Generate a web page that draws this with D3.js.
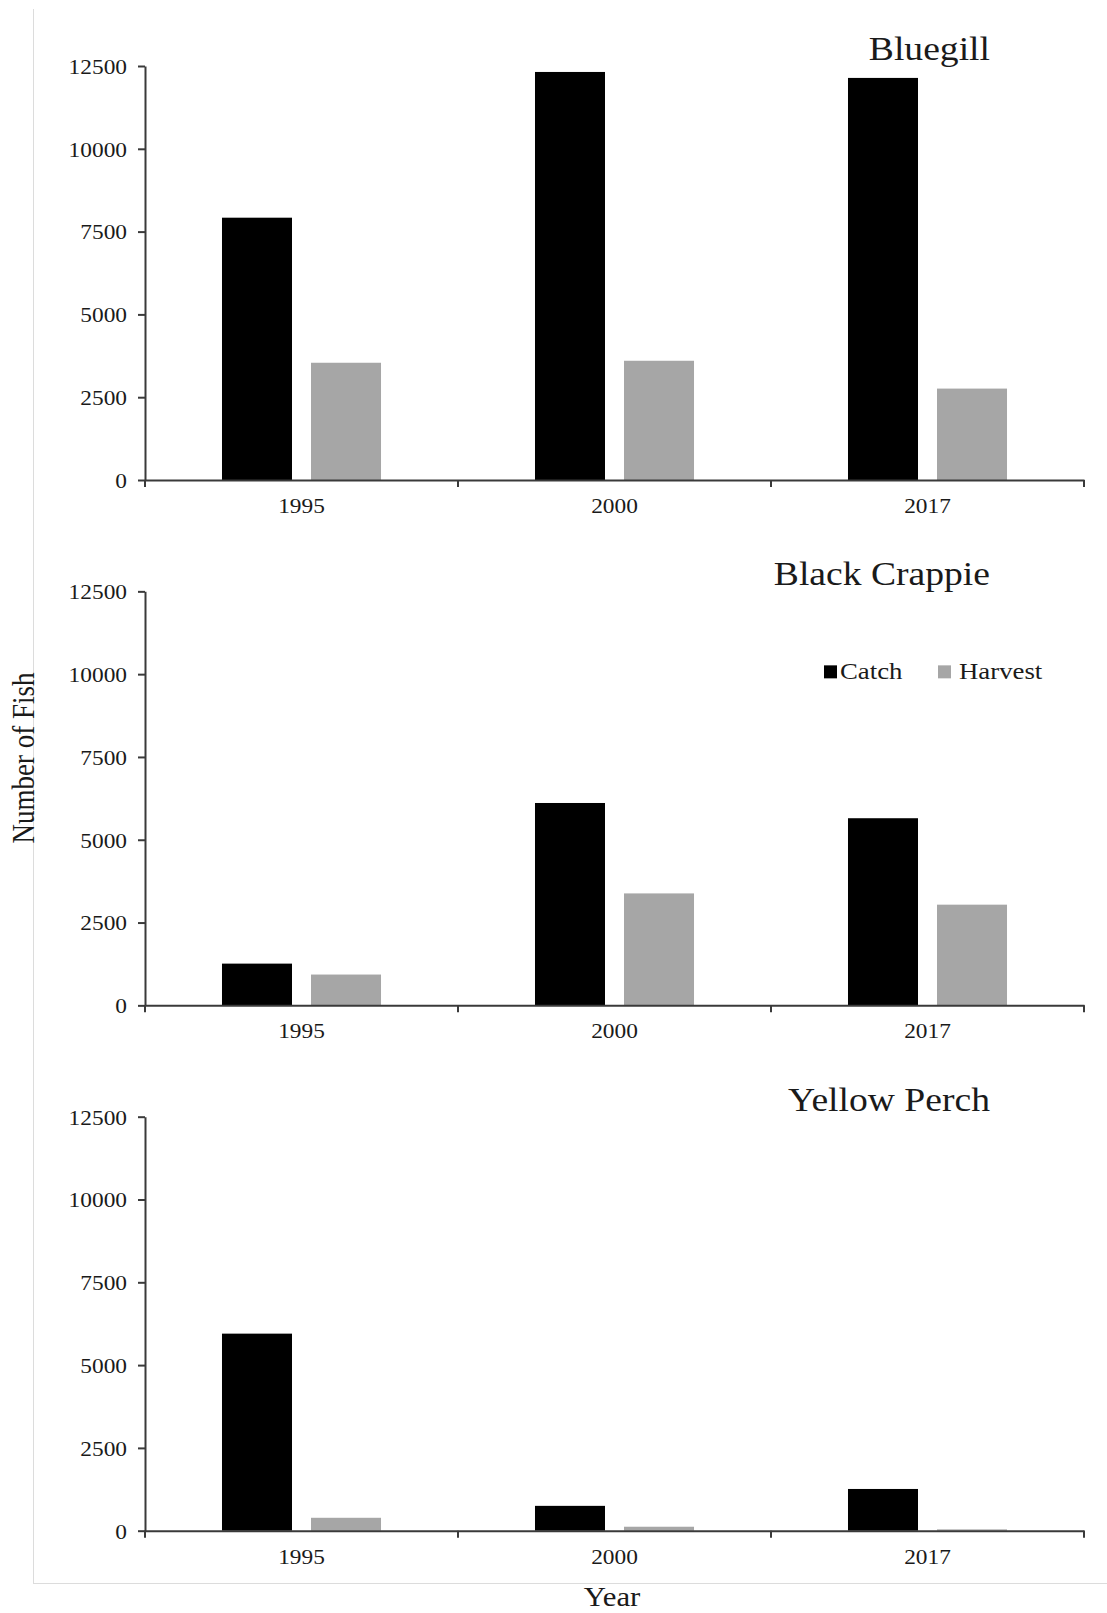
<!DOCTYPE html>
<html>
<head>
<meta charset="utf-8">
<script src="https://cdn.jsdelivr.net/npm/d3@7"></script>
<style>
  html, body { margin: 0; padding: 0; background: #fff; }
  svg { display: block; }
  text { font-family: "Liberation Serif", "Times New Roman", serif; fill: #1a1a1a; }
</style>
</head>
<body>
<svg id="chart" width="1107" height="1613"></svg>
<script>
// Angler catch and harvest by species and survey year
const years = ["1995", "2000", "2017"];
const series = ["Catch", "Harvest"];
const species = ["Bluegill", "Black Crappie", "Yellow Perch"];
const catchValues = [
  [7920, 12320, 12140],  // Bluegill
  [1260, 6110, 5650],    // Black Crappie
  [5950, 750, 1260]      // Yellow Perch
];
const harvestValues = [
  [3540, 3600, 2760],
  [930, 3380, 3040],
  [390, 120, 40]
];
const yTicks = [0, 2500, 5000, 7500, 10000, 12500];
const yTitle = "Number of Fish";
const xTitle = "Year";

const W = 1107, H = 1613;
const left = 145, right = 1084;
const plotH = 414, firstTop = 66, panelStep = 525.35;
const sx = 1.14; // horizontal text stretch

const svg = d3.select("#chart");

// light frame on the left and bottom
svg.append("line").attr("x1", 33.5).attr("x2", 33.5).attr("y1", 9).attr("y2", 1583.5)
  .attr("stroke", "#dcdcdc").attr("stroke-width", 1);
svg.append("line").attr("x1", 33).attr("x2", W).attr("y1", 1583.5).attr("y2", 1583.5)
  .attr("stroke", "#dcdcdc").attr("stroke-width", 1);

const x0 = d3.scaleBand().domain(years).range([left, right]);
const x1 = d3.scaleBand().domain(series).range([0, x0.bandwidth()])
  .paddingInner(19 / 89).paddingOuter(0.865);
const color = d3.scaleOrdinal().domain(series).range(["#000000", "#a6a6a6"]);

const axisColor = "#3a3a3a";

species.forEach((name, i) => {
  const top = firstTop + i * panelStep;
  const base = top + plotH;
  const y = d3.scaleLinear().domain([0, 12500]).range([base, top]);
  const g = svg.append("g");

  const rows = years.map((yr, j) => ({
    year: yr,
    values: [
      { key: "Catch", v: catchValues[i][j] },
      { key: "Harvest", v: harvestValues[i][j] }
    ]
  }));

  // bars
  g.append("g").selectAll("g").data(rows).join("g")
    .attr("transform", d => `translate(${x0(d.year)},0)`)
    .selectAll("rect").data(d => d.values).join("rect")
    .attr("x", d => x1(d.key))
    .attr("width", x1.bandwidth())
    .attr("y", d => y(d.v))
    .attr("height", d => base - y(d.v))
    .attr("fill", d => color(d.key));

  // y axis
  const ya = g.append("g").attr("transform", `translate(${left},0)`)
    .call(d3.axisLeft(y).tickValues(yTicks).tickSize(7).tickSizeOuter(0).tickFormat(d3.format("d")));
  ya.select(".domain").attr("stroke", axisColor).attr("stroke-width", 2);
  ya.selectAll(".tick line").attr("stroke", axisColor).attr("stroke-width", 2);
  ya.selectAll(".tick text")
    .attr("x", 0).attr("dy", "0.36em")
    .attr("transform", `translate(-18,0) scale(${sx},1)`)
    .style("font-family", "'Liberation Serif', 'Times New Roman', serif")
    .style("font-size", "20.5px").attr("fill", "#1a1a1a");

  // x axis with category labels centred and ticks on the band edges
  const xa = g.append("g").attr("transform", `translate(0,${base})`)
    .call(d3.axisBottom(x0).tickSize(0).tickSizeOuter(0));
  xa.select(".domain").attr("stroke", axisColor).attr("stroke-width", 2);
  xa.selectAll(".tick text")
    .attr("y", 0).attr("dy", 0)
    .attr("transform", `translate(0,33) scale(${sx},1)`)
    .style("font-family", "'Liberation Serif', 'Times New Roman', serif")
    .style("font-size", "20.5px").attr("fill", "#1a1a1a");
  xa.selectAll(".edge").data([...years.map(d => x0(d)), x0.range()[1]]).join("line")
    .attr("class", "edge")
    .attr("x1", d => d).attr("x2", d => d)
    .attr("y1", 0).attr("y2", 7)
    .attr("stroke", axisColor).attr("stroke-width", 2);

  // species title
  g.append("text")
    .attr("transform", `translate(990,${top - 6}) scale(${sx},1)`)
    .attr("text-anchor", "end")
    .style("font-size", "33px")
    .text(name);

  // legend in the middle panel
  if (i === 1) {
    const legendX = [824, 938];
    const lg = g.append("g").selectAll("g").data(series).join("g")
      .attr("transform", (d, k) => `translate(${legendX[k]},${top + 74})`);
    lg.append("rect").attr("x", 0).attr("y", 0).attr("width", 13).attr("height", 13)
      .attr("fill", d => color(d));
    lg.append("text")
      .attr("transform", (d, k) => `translate(${k === 0 ? 16 : 21},14) scale(${sx},1)`)
      .style("font-size", "23.5px")
      .text(d => d);
  }
});

// axis titles
svg.append("text")
  .attr("transform", `translate(33.5,758) scale(${sx},1) rotate(-90)`)
  .attr("text-anchor", "middle")
  .style("font-size", "27px")
  .text(yTitle);

svg.append("text")
  .attr("transform", `translate(612,1606) scale(${sx},1)`)
  .attr("text-anchor", "middle")
  .style("font-size", "27px")
  .text(xTitle);
</script>
</body>
</html>
